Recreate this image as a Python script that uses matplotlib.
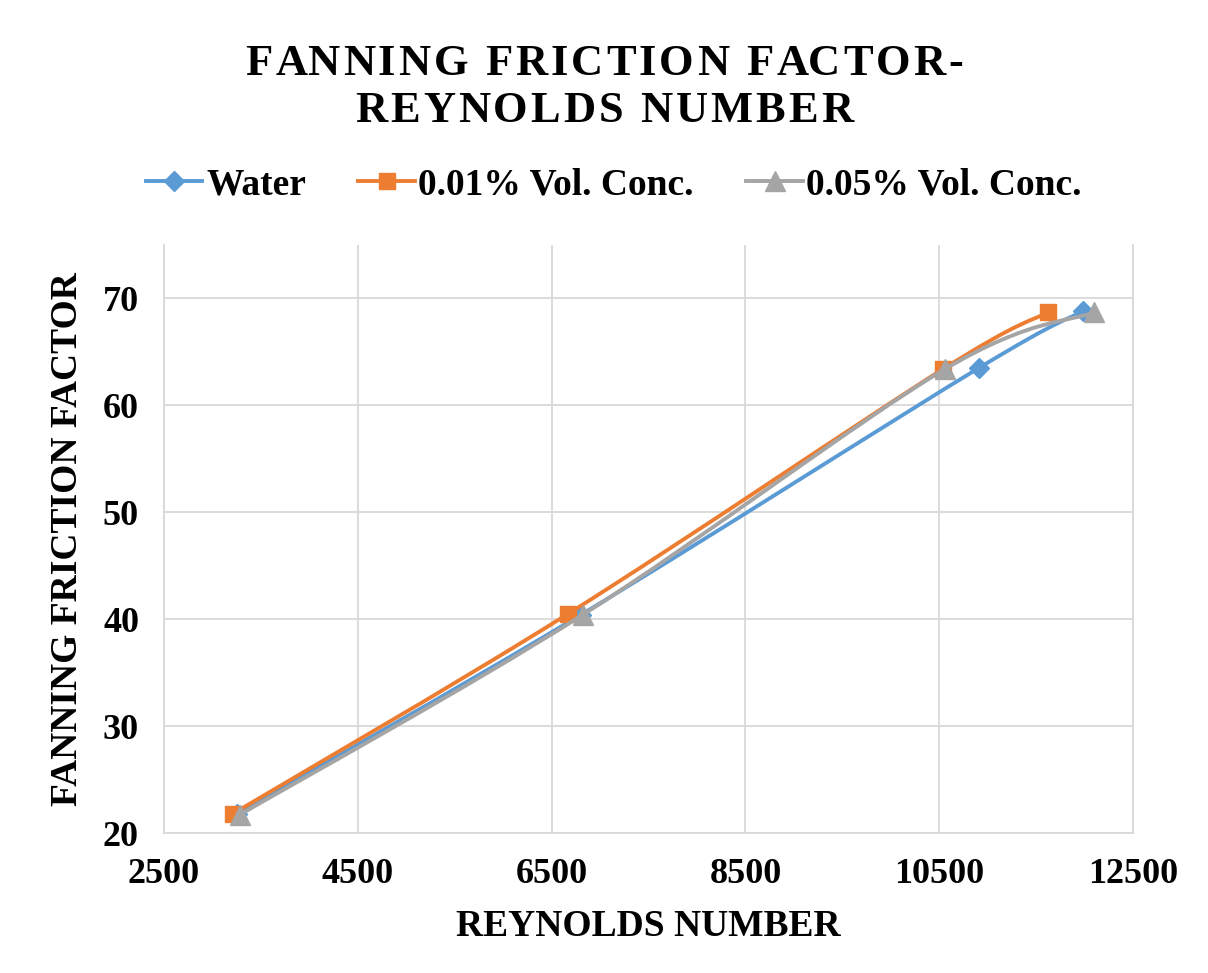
import matplotlib
matplotlib.use('Agg')
import matplotlib.pyplot as plt
from matplotlib.path import Path
from matplotlib.patches import PathPatch
from matplotlib.lines import Line2D
from matplotlib.font_manager import FontProperties

# data
re_water = [3250, 6800, 10910, 11980]
f_water = [21.8, 40.4, 63.5, 68.8]
re_c001 = [3210, 6670, 10540, 11620]
f_c001 = [21.8, 40.5, 63.4, 68.7]
re_c005 = [3280, 6820, 10560, 12100]
f_c005 = [21.7, 40.4, 63.4, 68.7]

labels = ['Water', '0.01% Vol. Conc.', '0.05% Vol. Conc.']
colors = ['#5B9BD5', '#ED7D31', '#A5A5A5']
markers = ['D', 's', '^']
msizes = [10, 12, 14]

xticks = [2500, 4500, 6500, 8500, 10500, 12500]
yticks = [20, 30, 40, 50, 60, 70]

FONT = 'Liberation Serif'
W, H = 1208, 973


def smooth_path(x, y):
    # excel style smoothed line: cubic bezier with catmull-rom control points
    pts = list(zip(x, y))
    n = len(pts)
    verts = [pts[0]]
    codes = [Path.MOVETO]
    for i in range(n - 1):
        p0 = pts[max(i - 1, 0)]
        p1 = pts[i]
        p2 = pts[i + 1]
        p3 = pts[min(i + 2, n - 1)]
        c1 = (p1[0] + (p2[0] - p0[0]) / 6, p1[1] + (p2[1] - p0[1]) / 6)
        c2 = (p2[0] - (p3[0] - p1[0]) / 6, p2[1] - (p3[1] - p1[1]) / 6)
        verts += [c1, c2, p2]
        codes += [Path.CURVE4] * 3
    return Path(verts, codes)


def spaced_text(fig, text, y_px, size, gap_px):
    # title with extra character spacing, like the excel title
    r = fig.canvas.get_renderer()
    fp = FontProperties(family=FONT, weight='bold', size=size)

    def tw(s):
        return r.get_text_width_height_descent(s, fp, ismath=False)[0]
    ref = tw('|')
    offs = [tw(text[:i] + '|') - ref + i * gap_px for i in range(len(text))]
    total = offs[-1] + tw(text[-1])
    x0 = W / 2 - total / 2
    for ch, o in zip(text, offs):
        if ch != ' ':
            fig.text((x0 + o) / W, 1 - y_px / H, ch, fontproperties=fp,
                     ha='left', va='baseline')


fig = plt.figure(figsize=(W / 100, H / 100), dpi=100)
ax = fig.add_axes([164 / W, 1 - 833 / H, (1133 - 164) / W, (833 - 245) / H])

series = [(re_water, f_water), (re_c001, f_c001), (re_c005, f_c005)]
handles = []
for k, (x, y) in enumerate(series):
    ax.add_patch(PathPatch(smooth_path(x, y), facecolor='none',
                           edgecolor=colors[k], lw=2.8, zorder=3 + k,
                           capstyle='round', joinstyle='round'))
    ax.plot(x, y, linestyle='none', marker=markers[k], ms=msizes[k],
            color=colors[k], zorder=3 + k)
    handles.append(Line2D([], [], color=colors[k], lw=2.8,
                          marker=markers[k], ms=msizes[k]))

ax.set_xlim(2500, 12500)
ax.set_ylim(20, 75)
ax.set_xticks(xticks)
ax.set_yticks(yticks)
ax.grid(True, color='#D9D9D9', lw=1.3, zorder=0)
ax.set_axisbelow(True)
ax.spines['top'].set_visible(False)
for s in ['left', 'bottom', 'right']:
    ax.spines[s].set_color('#D9D9D9')
    ax.spines[s].set_linewidth(1.3)
ax.tick_params(length=0, labelsize=26, pad=18)
for t in ax.get_xticklabels() + ax.get_yticklabels():
    t.set_fontfamily(FONT)
    t.set_fontweight('bold')

ax.set_xlabel('REYNOLDS NUMBER', fontsize=27, fontweight='bold', family=FONT)
ax.xaxis.set_label_coords(0.5, (833 - 927) / (833 - 245))
ax.xaxis.label.set_va('center')
ax.set_ylabel('FANNING FRICTION FACTOR', fontsize=27, fontweight='bold', family=FONT)
ax.yaxis.set_label_coords((68 - 164) / (1133 - 164), 0.5)
ax.yaxis.label.set_va('center')

fig.legend(handles, labels, loc='center',
           bbox_to_anchor=(0.5 + 10 / W, 1 - 185 / H),
           ncol=3, frameon=False, handlelength=1.5, handletextpad=0.1,
           columnspacing=1.4, prop=FontProperties(family=FONT, weight='bold', size=27))

spaced_text(fig, 'FANNING FRICTION FACTOR-', 75, 32, 3)
spaced_text(fig, 'REYNOLDS NUMBER', 122, 32, 3)

fig.savefig('out.png', dpi=100)
